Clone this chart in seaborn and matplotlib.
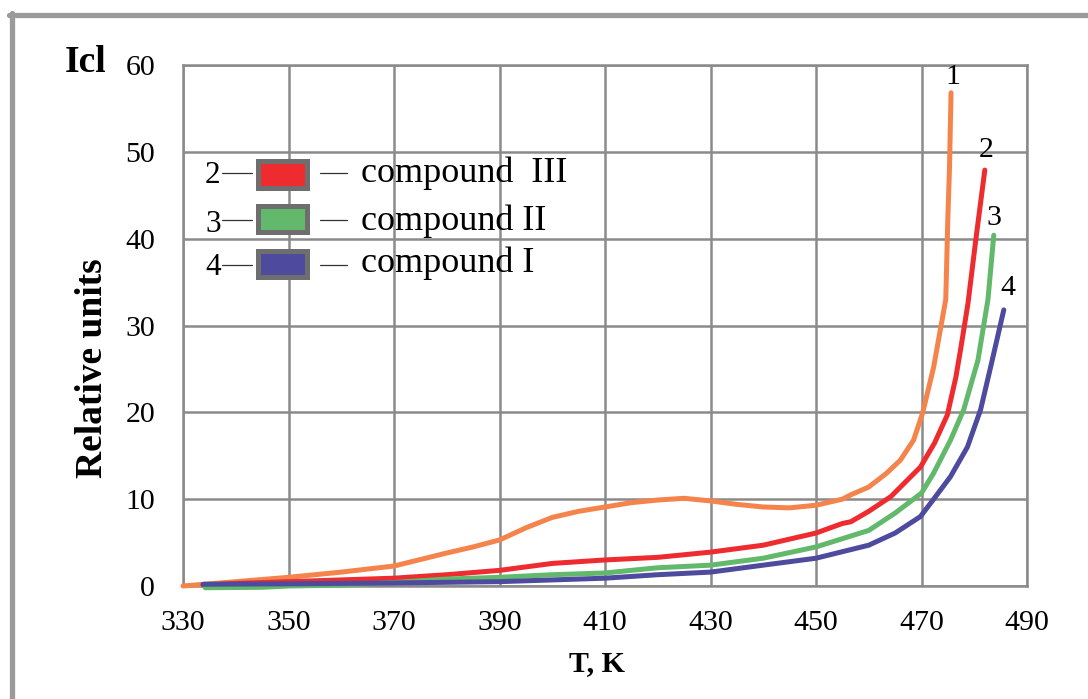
import numpy as np
import pandas as pd
import matplotlib
matplotlib.use("Agg")
import matplotlib.pyplot as plt
from matplotlib.lines import Line2D
from matplotlib.patches import Rectangle
import seaborn as sns

# curve 1 (orange, no legend entry)
t1 = [330, 340, 350, 360, 370, 380, 385, 390, 395, 400, 405, 410, 415, 420, 425, 430,
      435, 440, 445, 450, 455, 456.6, 460, 463.4, 466, 468.5, 470.2, 472.3, 474.6,
      475.0, 475.3, 475.6]
i1 = [0.0, 0.5, 1.0, 1.6, 2.3, 3.8, 4.5, 5.3, 6.7, 7.9, 8.6, 9.1, 9.6, 9.9, 10.1, 9.8,
      9.4, 9.1, 9.0, 9.3, 10.0, 10.5, 11.4, 13.0, 14.5, 16.8, 19.9, 25.2, 33.0,
      42.5, 48.0, 56.8]

# curve 2 - compound III
t2 = [333.8, 340, 350, 360, 370, 380, 390, 395, 400, 410, 420, 430, 440, 450, 455,
      456.6, 460, 464.2, 467, 469.8, 472.5, 474.9, 476.5, 477.4, 478.8, 480.3, 482.0]
i2 = [0.1, 0.3, 0.5, 0.7, 0.9, 1.3, 1.8, 2.2, 2.6, 3.0, 3.3, 3.9, 4.7, 6.1, 7.2,
      7.4, 8.6, 10.3, 12.0, 13.7, 16.5, 19.7, 24.0, 27.2, 32.5, 39.9, 47.9]

# curve 3 - compound II
t3 = [334.2, 345, 350, 360, 370, 380, 390, 400, 410, 420, 430, 440, 450, 460, 465,
      470, 472.3, 475.5, 478.0, 480.7, 482.6, 483.7]
i3 = [-0.2, -0.15, 0.0, 0.1, 0.4, 0.8, 1.0, 1.3, 1.5, 2.1, 2.4, 3.2, 4.5, 6.4, 8.4,
      10.7, 13.0, 16.8, 20.3, 26.0, 33.0, 40.4]

# curve 4 - compound I
t4 = [333.8, 350, 370, 390, 400, 410, 420, 430, 440, 450, 460, 465, 469.8, 472.3,
      475.5, 478.7, 481.2, 483.1, 485.6]
i4 = [0.2, 0.25, 0.35, 0.5, 0.7, 0.9, 1.3, 1.6, 2.4, 3.2, 4.7, 6.1, 8.0, 10.0,
      12.6, 16.0, 20.3, 25.2, 31.8]

curve_ids = ["1", "2", "3", "4"]
colors = ["#F5844C", "#EE2B2E", "#62B86B", "#4E4A9E"]
legend_names = ["compound  III", "compound II", "compound I"]
x_ticks = [330, 350, 370, 390, 410, 430, 450, 470, 490]
y_ticks = [0, 10, 20, 30, 40, 50, 60]

W, H = 1088, 699

def fx(px):
    return px / W

def fy(py):
    return 1 - py / H

sns.set_style("white")
plt.rcParams['font.family'] = ['Liberation Serif', 'DejaVu Serif']
plt.rcParams['text.color'] = 'black'
plt.rcParams['axes.labelcolor'] = 'black'

fig = plt.figure(figsize=(W / 100, H / 100), dpi=100)
ax = fig.add_axes([fx(183), fy(586), fx(1027) - fx(183), fy(65) - fy(586)])

grid_c = "#8a8a8a"
for t, i, c in zip([t1, t2, t3, t4], [i1, i2, i3, i4], colors):
    df = pd.DataFrame({"T": t, "I": i})
    sns.lineplot(data=df, x="T", y="I", color=c, linewidth=3.6, sort=False,
                 estimator=None, ax=ax, zorder=3, clip_on=False)

ax.set_xlim(330, 490)
ax.set_ylim(0, 60)
ax.set_xticks(x_ticks)
ax.set_yticks(y_ticks)
ax.grid(True, color=grid_c, linewidth=1.8, zorder=0)
for s in ax.spines.values():
    s.set_color(grid_c)
    s.set_linewidth(1.8)
ax.tick_params(axis='both', colors=grid_c, labelcolor='black', labelsize=21.5,
               width=1.8)
ax.tick_params(axis='y', length=11, pad=9)
ax.tick_params(axis='x', length=8, pad=9)

ax.set_xlabel("T, K", fontsize=21.5, fontweight='bold')
ax.xaxis.set_label_coords(0.49, -0.148)
ax.xaxis.label.set_va('center')
ax.set_ylabel("Relative units", fontsize=27, fontweight='bold')
ax.yaxis.set_label_coords(-0.107, 0.4175)
ax.yaxis.label.set_va('center')

# curve numbers at the ends
for lab, x, y in zip(curve_ids, [476.0, 482.2, 483.7, 486.4], [58.6, 50.2, 42.4, 34.3]):
    ax.text(x, y, lab, fontsize=21.5, ha='center', va='center', zorder=4)

fig.text(fx(65), fy(72), "Icl", fontsize=27, fontweight='bold', ha='left', va='baseline')

# hand drawn legend
rows_num_base = [183, 232, 275]
rows_dash = [173, 220, 265]
rows_rect = [(158, 190), (203, 235), (248, 280)]
rows_text_base = [182, 230, 272]
for k in range(3):
    fig.text(fx(205), fy(rows_num_base[k]), curve_ids[k + 1], fontsize=22.5,
             ha='left', va='baseline')
    fig.add_artist(Line2D([fx(222), fx(252)], [fy(rows_dash[k])] * 2, color='#333333',
                          linewidth=0.9))
    y0, y1 = rows_rect[k]
    fig.add_artist(Rectangle((fx(258), fy(y1 - 2.5)), fx(307) - fx(258),
                             fy(y0 + 2.5) - fy(y1 - 2.5), transform=fig.transFigure,
                             facecolor=colors[k + 1], edgecolor='#6e6e6e', linewidth=3.6))
    fig.add_artist(Line2D([fx(320), fx(347)], [fy(rows_dash[k])] * 2, color='#333333',
                          linewidth=0.9))
    fig.text(fx(361), fy(rows_text_base[k]), legend_names[k], fontsize=26,
             ha='left', va='baseline')

# outer frame (top and left only)
frame_c = "#9a9a9a"
fig.add_artist(Line2D([fx(9), fx(1088)], [fy(14.5)] * 2, color=frame_c, linewidth=3.8))
fig.add_artist(Line2D([fx(12), fx(12)], [fy(12.5), fy(699)], color=frame_c, linewidth=3.8))

fig.savefig("out.png", dpi=100)
